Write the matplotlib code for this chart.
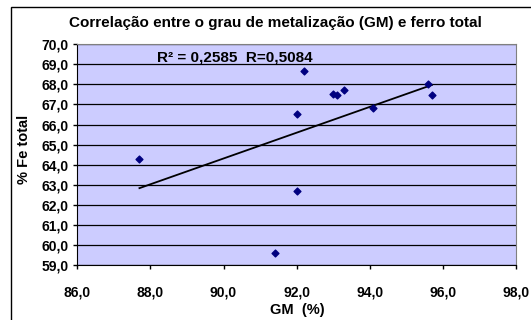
import numpy as np
import matplotlib.pyplot as plt
from matplotlib.patches import Rectangle
from matplotlib.ticker import FuncFormatter

plt.rcParams['font.family'] = ['Liberation Sans', 'DejaVu Sans']
plt.rcParams['font.weight'] = 'bold'

# GM (%) and % Fe total
gm = [87.7, 92.0, 92.0, 91.4, 92.2, 93.0, 93.1, 93.3, 94.1, 95.6, 95.7]
fe = [64.3, 66.55, 62.7, 59.6, 68.65, 67.5, 67.45, 67.7, 66.85, 68.0, 67.45]

title = 'Correlação entre o grau de metalização (GM) e ferro total'
r_text = 'R² = 0,2585  R=0,5084'

W, H = 531, 320
fig = plt.figure(figsize=(W / 100, H / 100), dpi=100)
ax = fig.add_axes([77.3 / W, 1 - 265 / H, (516 - 77.3) / W, (265 - 44.3) / H])
ax.set_facecolor('#CCCCFF')

# outer chart border
fig.patches.append(Rectangle((11 / W, -0.05), 1.2, 1 - 7 / H + 0.05,
                             transform=fig.transFigure, fill=False,
                             edgecolor='black', linewidth=1.0))

ax.scatter(gm, fe, marker='D', s=12, color='#000080', zorder=3)

# linear trendline over the data range
k, b = np.polyfit(gm, fe, 1)
xs = np.array([min(gm), max(gm)])
ax.plot(xs, k * xs + b, color='black', linewidth=1.3, zorder=2)

ax.set_xlim(86, 98)
ax.set_ylim(59, 70)
ax.set_xticks(np.arange(86, 98.1, 2))
ax.set_yticks(np.arange(59, 70.1, 1))
fmt = FuncFormatter(lambda v, p: f'{v:.1f}'.replace('.', ','))
ax.xaxis.set_major_formatter(fmt)
ax.yaxis.set_major_formatter(fmt)
ax.tick_params(labelsize=10, length=3, width=1, color='black')
ax.tick_params(axis='x', pad=12)
ax.tick_params(axis='y', pad=3)
ax.grid(axis='y', color='black', linewidth=0.9)
ax.set_axisbelow(True)
for side in ['top', 'right']:
    ax.spines[side].set_color('#808080')
for side in ['left', 'bottom']:
    ax.spines[side].set_color('black')

fig.text(297 / W, 1 - 310 / H, 'GM  (%)', ha='center', va='center',
         fontsize=10.5, fontweight='bold')
fig.text(24 / W, 1 - 149 / H, '% Fe total', ha='center', va='center',
         rotation=90, fontsize=10.5, fontweight='bold')
fig.text(275 / W, 1 - 23 / H, title, ha='center', va='center',
         fontsize=11, fontweight='bold')
fig.text(157 / W, 1 - 57 / H, r_text, ha='left', va='center',
         fontsize=11, fontweight='bold')

fig.savefig('out.png', dpi=100)
